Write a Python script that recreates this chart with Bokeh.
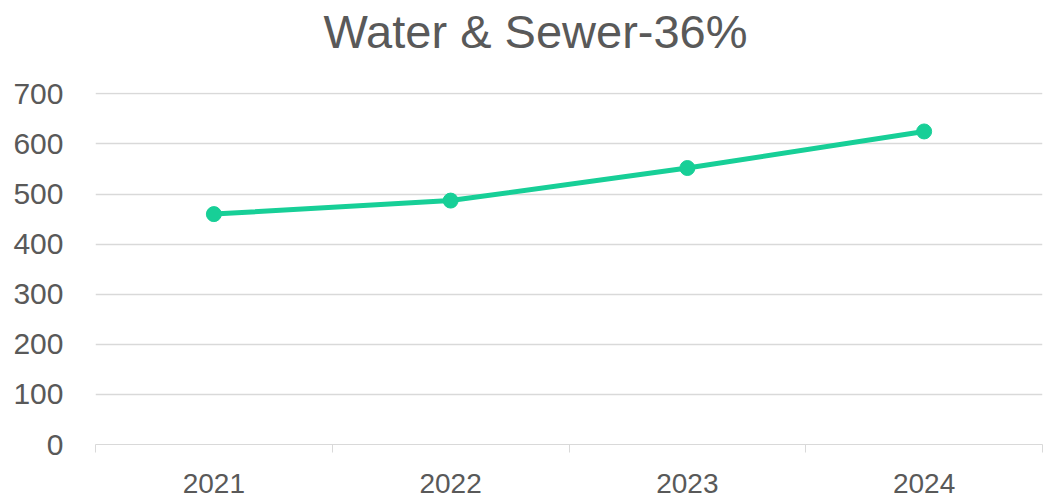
from bokeh.plotting import figure
from bokeh.models import Range1d, FixedTicker, ColumnDataSource, Title
from bokeh.embed import file_html
from bokeh.resources import INLINE

title_text = "Water & Sewer-36%"
categories = ["2021", "2022", "2023", "2024"]
values = [460, 487, 552, 625]
y_ticks = [0, 100, 200, 300, 400, 500, 600, 700]

xs = [i + 1 for i in range(len(categories))]
src = ColumnDataSource(dict(x=xs, y=values, cat=categories))

FONT = "Liberation Sans"
TXT = "#595959"
GRID = "#d9d9d9"
LINE = "#17CF97"

p = figure(width=1043, height=501, output_backend="svg", toolbar_location=None, title=None,
           x_range=Range1d(0.5, len(categories) + 0.5), y_range=Range1d(0, y_ticks[-1] * 1.004),
           min_border_left=95, min_border_right=1, min_border_top=92, min_border_bottom=57)
p.outline_line_color = None

# spacer between title and plot area (inner), then the real title (outer)
spacer = Title(text=" ", text_font=FONT, text_font_size="30px", standoff=0, text_line_height=1.0)
p.add_layout(spacer, "above")
main_title = Title(text=title_text, text_font=FONT, text_font_size="47px", text_font_style="normal",
                   text_color=TXT, align="left", offset=228, standoff=0, text_line_height=1.0)
p.add_layout(main_title, "above")

p.line("x", "y", source=src, line_color=LINE, line_width=5)
p.scatter("x", "y", source=src, size=15, fill_color=LINE, line_color=LINE)

# x axis
xa = p.xaxis[0]
xa.ticker = FixedTicker(ticks=xs, minor_ticks=[x - 0.5 for x in xs] + [xs[-1] + 0.5])
xa.major_label_overrides = {x: c for x, c in zip(xs, categories)}
xa.major_tick_in = 0
xa.major_tick_out = 0
xa.minor_tick_in = 0
xa.minor_tick_out = 8
xa.minor_tick_line_color = GRID
xa.minor_tick_line_width = 1
xa.axis_line_color = GRID
xa.axis_line_width = 1
xa.major_label_standoff = 21
xa.major_label_text_font = FONT
xa.major_label_text_font_size = "28px"
xa.major_label_text_color = TXT

# y axis
ya = p.yaxis[0]
ya.ticker = FixedTicker(ticks=y_ticks)
ya.axis_line_color = None
ya.major_tick_line_color = None
ya.minor_tick_line_color = None
ya.major_tick_in = 0
ya.major_tick_out = 0
ya.major_label_standoff = 32
ya.major_label_text_font = FONT
ya.major_label_text_font_size = "30px"
ya.major_label_text_color = TXT

p.xgrid.grid_line_color = None
p.ygrid.ticker = FixedTicker(ticks=y_ticks)
p.ygrid.grid_line_color = GRID
p.ygrid.grid_line_width = 1.3

open("out.html", "w").write(file_html(p, INLINE))
